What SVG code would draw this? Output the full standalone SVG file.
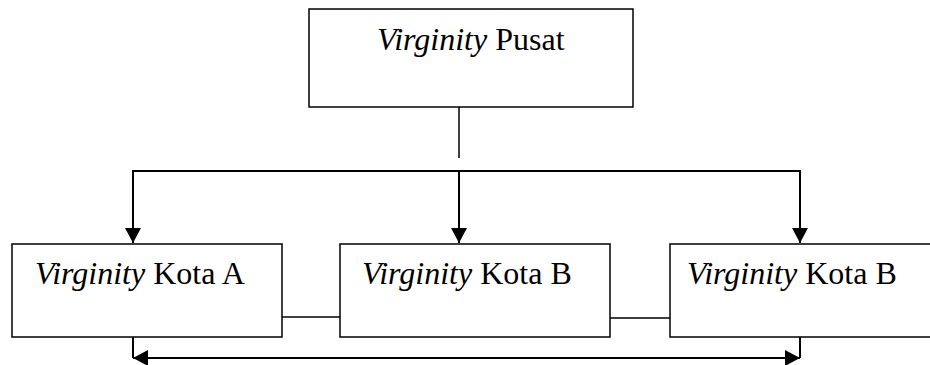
<svg xmlns="http://www.w3.org/2000/svg" width="930" height="365" viewBox="0 0 930 365">
<defs>
<style>
.box{fill:#fff;stroke:#000;stroke-width:1.5}
.t{font-family:"Liberation Serif","Times New Roman",serif;font-size:32px;fill:#000}
.i{font-style:italic}
.ln{fill:none;stroke:#000;stroke-width:1.5}
.ar{fill:none;stroke:#000;stroke-width:2}
</style>
<marker id="ah" viewBox="0 0 15 16" refX="15" refY="8" markerWidth="15" markerHeight="16" markerUnits="userSpaceOnUse" orient="auto-start-reverse">
<path d="M0,0 L15,8 L0,16 Z" fill="#000"/>
</marker>
</defs>
<rect width="930" height="365" fill="#fff"/>
<g id="pusat">
<rect class="box" x="309" y="9" width="324" height="98"/>
<text class="t" x="377" y="50"><tspan class="i">Virginity</tspan> Pusat</text>
</g>
<g id="kotaA">
<rect class="box" x="12" y="244" width="270" height="93"/>
<text class="t" x="35" y="284"><tspan class="i">Virginity</tspan> Kota A</text>
</g>
<g id="kotaB1">
<rect class="box" x="340" y="244" width="270" height="93"/>
<text class="t" x="362" y="284"><tspan class="i">Virginity</tspan> Kota B</text>
</g>
<g id="kotaB2">
<rect class="box" x="670" y="244" width="270" height="93"/>
<text class="t" x="687" y="284"><tspan class="i">Virginity</tspan> Kota B</text>
</g>
<g id="connectors">
<line class="ln" x1="459" y1="107" x2="459" y2="158"/>
<polyline class="ar" points="133,230 133,171 800,171 800,230"/>
<line class="ar" x1="133" y1="171" x2="133" y2="243" marker-end="url(#ah)"/>
<line class="ar" x1="459" y1="171" x2="459" y2="243" marker-end="url(#ah)"/>
<line class="ar" x1="800" y1="171" x2="800" y2="243" marker-end="url(#ah)"/>
<line class="ln" x1="282" y1="317" x2="340" y2="317"/>
<line class="ln" x1="610" y1="318" x2="670" y2="318"/>
<line class="ar" x1="133" y1="337" x2="133" y2="358"/>
<line class="ar" x1="800" y1="337" x2="800" y2="358"/>
<line class="ar" x1="133" y1="358" x2="800" y2="358" marker-start="url(#ah)" marker-end="url(#ah)"/>
</g>
</svg>
